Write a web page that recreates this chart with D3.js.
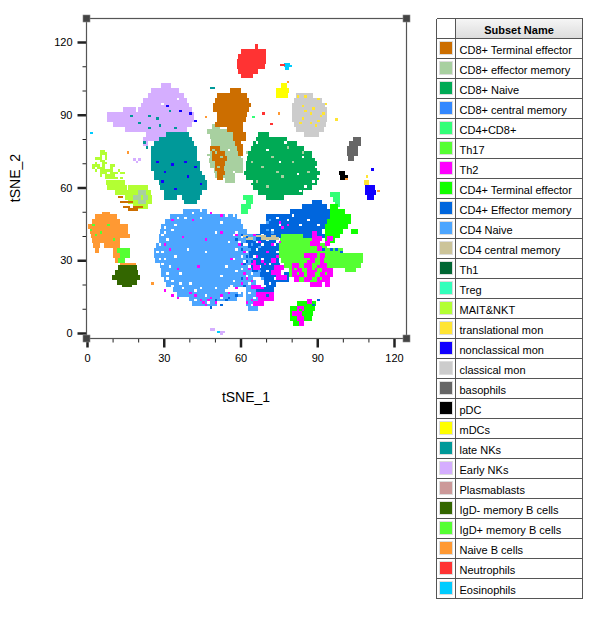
<!DOCTYPE html>
<html><head><meta charset="utf-8">
<script src="https://cdn.jsdelivr.net/npm/d3@7/dist/d3.min.js"></script>
<style>html,body{margin:0;padding:0;background:#fff}svg{display:block;font-family:"Liberation Sans",Arial,sans-serif}</style>
</head><body><svg id="c" width="601" height="618"></svg>
<script>
const subsetNames=["CD8+ Terminal effector","CD8+ effector memory","CD8+ Naive","CD8+ central memory","CD4+CD8+","Th17","Th2","CD4+ Terminal effector","CD4+ Effector memory","CD4 Naive","CD4 central memory","Th1","Treg","MAIT&NKT","translational mon","nonclassical mon","classical mon","basophils","pDC","mDCs","late NKs","Early NKs","Plasmablasts","IgD- memory B cells","IgD+ memory B cells","Naive B cells","Neutrophils","Eosinophils"];
const subsetColors=["#CC6E00","#A8D0A0","#00AA55","#3388FF","#33FF77","#55FF33","#FF00FF","#11FF00","#0066DD","#4DA6FF","#CCC499","#006633","#33FFBB","#B3FF33","#FFE533","#1100FF","#CCCCCC","#666666","#000000","#FFFF00","#009999","#D5AEFF","#CC9999","#336600","#55FF33","#FF9933","#FF3333","#00CCFF"];
const xMajor=[0,30,60,90,120],xMinor=[10,20,40,50,70,80,100,110];
const yMajor=[0,30,60,90,120],yMinor=[10,20,40,50,70,80,100,110];
// rows: [tSNE_2, tSNE_1 start, tSNE_1 end, ...more start/end pairs]
const earlyNK=[[102,29,33],[100,25,36],[98,24,38],[96,22,39],[94,21,40],[92,14,19,20,41],[90,8,42],[88,8,42],[86,10,41],[84,15,39],[82,23,36],[80,22,29],[78,22,24]];
const lateNK=[[82,31,40],[80,28,41],[78,26,42],[76,25,43],[74,25,43],[72,25,43],[70,25,44],[68,25,44],[66,26,45],[64,26,46],[62,28,47],[60,28.5,47],[58,30,45],[56,30,35,37,44],[54,38,43]];
const cd8Eff=[[85,49,52],[83,47,57],[81,48,57],[79,48.5,58],[77,48.5,59],[75,48,59],[73,47,61],[71,47.5,61],[69,48,61],[67,49.5,61],[65,50,58],[63,54,58]];
const cd8Term=[[100,56,60],[98,51,62.5],[96,50,63.5],[94,49.4,64],[92,49.4,63.5],[90,50.7,62.4],[88,50.7,62],[86,50,61],[84,54.6,61],[82,57,62],[80,57,62],[78,58,61],[76,58.5,61],[74,59,61],[76,48,52],[74,49,54],[72,49,54.6],[70,50,54],[68,50,53.5],[66,51,54],[64,51,53]];
const cd8Naive=[[82,67,71],[80,66,78],[78,65,82],[76,64,85],[74,63,88],[72,62.5,89],[70,62,90],[68,62,90],[66,61.5,91],[64,62,90.5],[62,64,90],[60,65,88],[58,67,84.5],[56,70,77]];
const neutro=[[118,65.7,67],[116,60,70],[114,59,70],[112,58.5,70],[110,58.5,69.5],[108,59,67],[106,60,65]];
const eos=[[111,77,79.5],[110,77,80],[109,77.5,79]];
const eosRed=[[110.5,75.5,77.5]];
const mdc=[[102,76,78],[100,74,79],[98,74,78.5]];
const classical=[[98,81.5,88.5],[96,81,91.7],[94,80,93],[92,80,94],[90,80,94],[88,80,94],[86,81,93.5],[84,81.5,92.5],[82,85,90.5]];
const baso=[[80,104,107],[78,102.5,107],[76,101.5,106],[74,101.5,106],[72,102,104.5]];
const pdc=[[66,98.5,101],[64,99,102]];
const nonclassical=[[60,108.5,112.5],[58,108.8,113],[56,109.5,112]];
const translational=[[62,108.3,110.3]];
const maitSparse=[[75,5,7],[74,5,8],[73,5,6,7,8],[72,3,6,7,8],[71,5,7],[70,3,4,6,8],[69,2,5,6,7,9,11],[68,2,3,4,7,9,10],[67,3,4,5,10,12,13],[66,5,8,9,12,13,15],[65,5,6,7,11],[64,7,12,13,14]];
const maitDense=[[62,7.5,15],[60,8,15.5],[58,11,15.5]];
const maitBlob=[[60,16,24],[58,15,25],[56,15,25.5],[54,16,25.5],[52,18,24]];
const maitGrey=[[58,20,23],[56,18,21,22,24],[54,20,23]];
const maitOrange=[[56,12,14],[54,13,18],[52,14,17,18,22],[51,16,20]];
const naiveB=[[49,5.7,9],[48,3,11.6],[46,1.8,13],[44,.5,16],[42,1,16],[40,1.5,17],[38,1.8,13],[36,2.5,5,6.5,13],[34,3,4.5,10,12],[32,10.3,13],[30,11,13],[28,13,19]];
const igdPlus=[[34,11.6,16.8],[32,13,16.8],[30,12,15]];
const igdMinus=[[27,12.3,19.4],[25,11,20],[23,9.6,20.7],[21,11.6,19.4],[20,13.5,17.5]];
const cd4Naive=[[50,37.7,46.8],[48,32.5,58.5],[46,30.5,60],[44,29,61],[42,28.5,62.5],[40,28,66],[38,28,66],[36,27,66],[34,26,68],[32,26,68],[30,26.5,68],[28,28.5,68],[26,29,68],[24,29,68],[22,30,66],[20,31,66],[18,33.5,55,62,68],[16,35,61,62,70],[14,40,58.5,62,70],[12,41,50.7,62,68],[10,63,67]];
const cd4Cm=[[40,61,63,66,70,72,74],[39,62,65,68,75]];
const cd4Em=[[54,88,91.7],[52,84,94],[50,79.4,95],[48,70,95],[46,70,94],[44,67.6,94],[42,67.6,92],[40,66,93],[38,62,74],[36,63,75],[34,63.5,75],[32,63.5,75],[30,64,75],[28,64,75.5],[26,64.5,75],[24,67.6,79],[22,69,79],[20,69,74],[18,66,73],[16,69,72]];
const th17=[[40,76,84.5],[38,75.5,91],[36,75,94],[34,75,100],[32,75,108],[30,76,108],[28,77,107],[26,79,96,101,105],[24,79,95],[22,81,95]];
const cd4Term=[[52,95,98],[50,95,101],[48,95,103],[46,94,103],[44,93,102],[42,93,100],[40,93,99],[38,93,97],[42,103,106],[12,82,89.5],[10,79.4,89],[8,79.4,88.5],[6,79.4,88],[4,80.5,84.5]];
const cd4cd8=[[56,61,65],[54,62,65],[52,60,64],[50,60,63],[57,95,99],[55,96,99],[53,97,99]];
const th2Patches=[[41,88,90],[39,88,92,94,96],[37,87,91,93,95],[35,90,92],[32,85,90,91,93],[30,86,89,91,92.5],[28,80,83,85,88,90,94],[26,80,84,86,90,92,96],[24,80,85,86,89,91,96],[22,81,83,85,88,90,95],[20,87,92,93,95],[30,72,74],[27,73,77],[25,72,76],[23,74,78],[29,64,66],[27,65,67.6],[19,64,68],[16,66,70,71,73],[14,67,73],[12,65,69]];
const th2Small=[[10,82,85],[8,80,84],[6,82,85],[4,83,85],[13,86,88]];
// single cells: [tSNE_1, tSNE_2]
const naiveGaps=[[44,47],[52,45],[33,42],[58,41],[60,39],[63,38],[31,38],[55,37],[61,36],[30,36],[58,34],[64,35],[29,33],[62,33],[65,31],[34,31],[57,30],[30,30],[61,29],[54,27],[63,27],[32,27],[66,25],[58,25],[36,24],[62,23],[31,24],[52,23],[33,21],[57,21],[40,20],[37,18],[44,18],[50,18],[54,17],[46,15],[52,14],[42,13],[47,12],[65,14],[64,11],[66,18],[34,44],[47,49],[54,48],[38,47],[64,29],[60,26],[30,43],[59,47],[42,17],[56,19],[36,20],[66,34],[66,38],[63,41],[61,43],[50,41],[39,34],[46,33],[67,13],[63,16],[68,16],[66,20],[65,22],[63,20],[61,18],[59,16],[60,31],[62,36],[65,27],[64,24],[59,37],[57,40],[28,36],[29,40],[30,41],[27,33],[28,30],[29,28],[31,22],[33,19],[35,47],[53,50],[57,48],[36,49],[44,50],[41,49]];
const emGaps=[[70,38],[73,36],[66,34],[68,30],[71,28],[74,33],[67,27],[70,25],[73,22],[76,24],[71,20],[68,36],[65,31],[72,42],[75,44],[78,46],[80,48],[86,46],[90,44],[83,44],[74,47],[69,19],[75,30],[66,37],[70,33],[64,28],[68,40]];
const naiveOverEm=[[63,34],[64,30],[65,27],[64,36],[66,31],[67,25],[68,22],[67,35],[65,38],[70,45],[71,46],[72,41],[70,42]];
const th2Cells=[[41,46],[46,38],[52,41],[33,46],[37,39],[30,36],[32,34],[43,27],[56,30],[60,28],[61,33],[58,40],[35,26],[40,16],[42,15],[44,13],[45,12],[46,11],[47,13],[48,14],[50,12],[52,15],[55,16],[58,18],[60,20],[61,24],[62,22],[64,21],[63,26],[65,28],[66,31],[68,29],[70,33],[72,36],[74,31],[75,37],[76,43],[78,44],[75,45],[68,18],[70,16],[52,48],[59,36],[33,15],[35,14],[30,17],[48,49],[65,40],[67,37],[62,12],[64,13],[69,28]];
const limeHoles=[[82,24],[88,26],[93,24],[84,22],[90,28],[86,30],[81,26],[91,22],[94,27],[87,21]];
const th2SmallHoles=[[83,9],[86,7],[81,6]];
const emCells=[[58,38],[60,36],[62,31],[64,29],[60,40],[55,14],[54,13],[50,13],[52,11],[48,10],[60,34],[62,39],[61,28],[62,29],[60,22],[61,19],[58,15],[92,34],[95,34],[97,34],[99,33],[88,11],[90,13]];
const yellowCells=[[84,93],[88,92],[90,96],[85,91],[87,86],[92,90],[89,85],[91,89],[84,88],[87,90],[93,94],[82,97],[85,97],[90,87],[83,86],[97,87.6],[109,64]];
const lateNKCells=[[17,89],[20,86],[24,89],[27,88],[24,84],[28,85],[32,91],[34,84],[22,78],[23,76],[48,100.5],[49,100.5]];
const blueCells=[[31,93],[36,91],[40,90],[42,87],[33,69],[38,70],[30,66],[27,70],[42,68],[39,64],[34,59],[29,62],[44,61],[111,67]];
const greenNoise=[[68,68],[72,72],[74,66],[80,70],[84,74],[78,76],[66,62],[70,60],[76,64],[86,66],[64,70],[62,74],[50,74],[52,72],[51,68],[49,75]];
const whiteNoise=[[29,94],[35,96],[42,84],[62,80],[60,78],[55,75],[70,75],[75,70],[82,65],[88,72],[90,64],[85,60],[63,60],[47,72],[60,72],[62,76],[61,68],[60,65],[57,66],[52,62],[64,62],[66,78],[77,78],[84,72],[89,68],[88,62],[83,58]];
const earlyNKStray=[[18,71],[19,70],[20,71],[48,1],[49,1],[52,0],[53,0],[52,-1]];
const eosStray=[[1.2,82],[51,0]];
const orangeStray=[[15.5,74],[74.5,90],[25,20],[113.5,58],[101,63],[46,88.5],[78,103]];
const redStray=[[68.5,90],[71.7,85.7]];
const cd4cd8Stray=[[64.6,88.5]];
const igdStray=[[1,42],[2,44],[3,40],[5,41],[10,38],[8,44]];

const svg=d3.select("#c");
const x=d3.scaleLinear().domain([0,120]).range([87,394]);
const y=d3.scaleLinear().domain([0,120]).range([333,42]);
const xEnd=406.5,yTop=18.5,yBot=338.5,xLeft=86.5;
const plot=svg.append("g").attr("shape-rendering","crispEdges");
function rows(data,col,h=2){
  const segs=data.flatMap(r=>d3.range(1,r.length,2).map(i=>({y:r[0],a:r[i],b:r[i+1]})));
  plot.append("g").attr("fill",col).selectAll("rect").data(segs).join("rect")
    .attr("x",d=>x(d.a)).attr("width",d=>x(d.b)-x(d.a))
    .attr("y",d=>y(d.y+h/2)).attr("height",d=>y(d.y-h/2)-y(d.y+h/2));
}
function cells(data,col){
  plot.append("g").attr("fill",col).selectAll("rect").data(data).join("rect")
    .attr("x",d=>x(d[0])).attr("y",d=>y(d[1]+1)).attr("width",x(1)-x(0)).attr("height",y(0)-y(1));
}
const col=n=>subsetColors[subsetNames.indexOf(n)];
rows(earlyNK,col("Early NKs"));rows(lateNK,col("late NKs"));
rows(cd8Naive,col("CD8+ Naive"));rows(cd8Eff,col("CD8+ effector memory"));rows(cd8Term,col("CD8+ Terminal effector"));
rows(neutro,col("Neutrophils"));rows(eos,col("Eosinophils"),1);rows(eosRed,col("Neutrophils"),1);rows(mdc,col("mDCs"));
rows(classical,col("classical mon"));rows(baso,col("basophils"));rows(pdc,col("pDC"));
rows(nonclassical,col("nonclassical mon"));rows(translational,col("translational mon"));
rows(maitSparse,col("MAIT&NKT"),1);rows(maitDense,col("MAIT&NKT"));rows(maitBlob,col("MAIT&NKT"));rows(maitGrey,col("CD8+ effector memory"));rows(maitOrange,col("CD8+ Terminal effector"),1);
rows(naiveB,col("Naive B cells"));rows(igdPlus,col("IgD+ memory B cells"));rows(igdMinus,col("IgD- memory B cells"));
rows(cd4Naive,col("CD4 Naive"));cells(naiveGaps,"#fff");
rows(cd4cd8,col("CD4+CD8+"));rows(cd4Em,col("CD4+ Effector memory"));cells(emGaps,"#fff");cells(naiveOverEm,col("CD4 Naive"));
rows(cd4Term,col("CD4+ Terminal effector"));rows(th17,col("Th17"));
rows(cd4Cm,col("CD4 central memory"),1);
rows(th2Patches,col("Th2"));rows(th2Small,col("Th2"));cells(limeHoles,col("Th17"));cells(th2SmallHoles,col("CD4+ Terminal effector"));cells(th2Cells,col("Th2"));
cells(emCells,col("CD4+ Effector memory"));cells(yellowCells,col("translational mon"));
cells(lateNKCells,col("late NKs"));cells(blueCells,col("nonclassical mon"));
cells(greenNoise,col("CD8+ effector memory"));cells(whiteNoise,"#fff");
cells(earlyNKStray,col("Early NKs"));cells(eosStray,col("Eosinophils"));cells(orangeStray,col("Naive B cells"));cells(redStray,col("Neutrophils"));cells(cd4cd8Stray,col("CD4+CD8+"));cells(igdStray,col("IgD+ memory B cells"));

// axes
const ax=svg.append("g").attr("transform",`translate(0,${yBot})`);
const ay=svg.append("g").attr("transform",`translate(${xLeft},0)`);
const hide=g=>{g.selectAll(".domain").remove();};
const xa=ax.append("g").call(d3.axisBottom(x).tickValues(xMajor).tickSize(9).tickPadding(7).tickFormat(d3.format("d")));
ax.append("g").call(d3.axisBottom(x).tickValues(xMinor).tickSize(4).tickFormat(""));
const ya=ay.append("g").call(d3.axisLeft(y).tickValues(yMajor).tickSize(9).tickPadding(5).tickFormat(d3.format("d")));
ay.append("g").call(d3.axisLeft(y).tickValues(yMinor).tickSize(4).tickFormat(""));
[ax,ay].forEach(g=>{hide(g);g.selectAll("text").attr("font-size",11).attr("font-family","Liberation Sans").attr("fill","#000");g.selectAll("line").attr("stroke","#222").attr("stroke-width",1);});
xa.selectAll("line").attr("stroke-width",2.5);ya.selectAll("line").attr("stroke-width",2.5);
svg.append("rect").attr("x",xLeft).attr("y",yTop).attr("width",xEnd-xLeft).attr("height",yBot-yTop).attr("fill","none").attr("stroke","#555").attr("stroke-width",1.2);
[[xLeft,yTop],[xEnd,yTop],[xLeft,yBot],[xEnd,yBot]].forEach(p=>svg.append("rect").attr("x",p[0]-3.5).attr("y",p[1]-3.5).attr("width",7).attr("height",7).attr("fill","#444").attr("stroke","#888").attr("stroke-width",.6));
svg.append("text").attr("x",246).attr("y",402).attr("text-anchor","middle").attr("font-size",14).text("tSNE_1");
svg.append("text").attr("transform","translate(20,178) rotate(-90)").attr("text-anchor","middle").attr("font-size",14).text("tSNE_2");

// legend table
const defs=svg.append("defs");
const gr=defs.append("linearGradient").attr("id","hd").attr("x1",0).attr("y1",0).attr("x2",0).attr("y2",1);
gr.append("stop").attr("offset",0).attr("stop-color","#f6f6f6");gr.append("stop").attr("offset",1).attr("stop-color","#dcdcdc");
const L=svg.append("g").attr("shape-rendering","crispEdges");
const tx=436.5,tc=455.5,tr=582.5,ty=18.5,hh=20,rh=20;
L.append("rect").attr("x",tc).attr("y",ty).attr("width",tr-tc).attr("height",hh).attr("fill","url(#hd)");
const row=L.selectAll(".r").data(subsetNames).join("g").attr("class","r").attr("transform",(d,i)=>`translate(0,${ty+hh+i*rh})`);
row.append("rect").attr("x",tx+3).attr("y",3).attr("width",13).attr("height",13).attr("fill",(d,i)=>subsetColors[i]).attr("stroke","#ddd").attr("stroke-width",1);
row.append("text").attr("x",459.5).attr("y",15).attr("font-size",11).attr("fill","#000").attr("shape-rendering","auto").text(d=>d);
const nrows=subsetNames.length;
d3.range(nrows+2).forEach(i=>{const yy=i==0?ty:ty+hh+(i-1)*rh;L.append("line").attr("x1",tx).attr("x2",tr).attr("y1",yy).attr("y2",yy).attr("stroke","#555");});
[tx,tc,tr].forEach(v=>L.append("line").attr("x1",v).attr("x2",v).attr("y1",ty).attr("y2",ty+hh+nrows*rh).attr("stroke","#555"));
svg.append("text").attr("x",(tc+tr)/2).attr("y",ty+15).attr("text-anchor","middle").attr("font-size",11).attr("font-weight","bold").text("Subset Name");
</script></body></html>
